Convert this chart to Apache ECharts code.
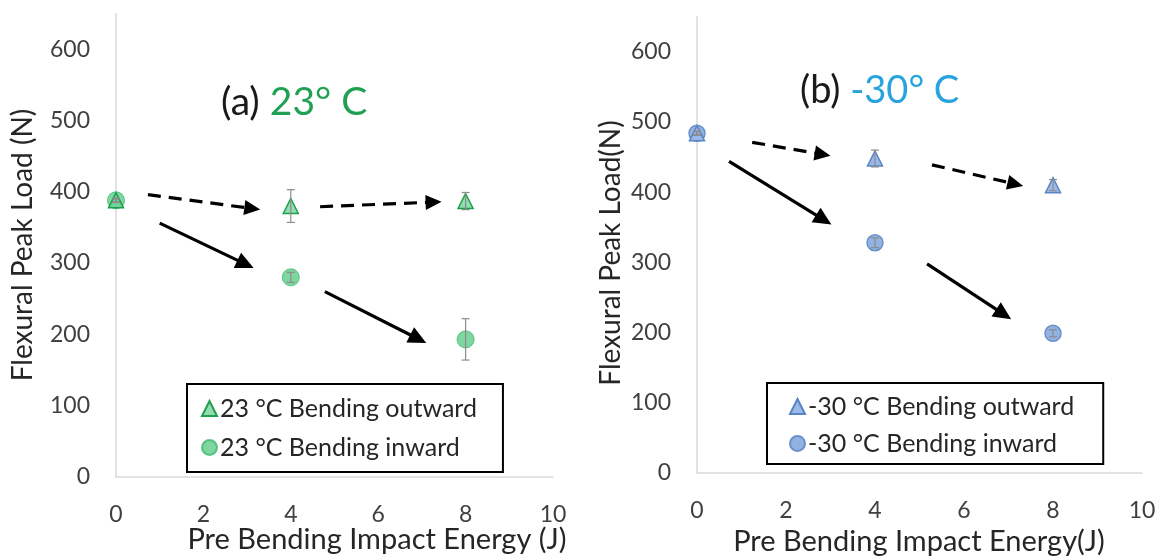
<!DOCTYPE html>
<html>
<head>
<meta charset="utf-8">
<script src="https://cdn.jsdelivr.net/npm/echarts@6/dist/echarts.min.js"></script>
<style>
html,body{margin:0;padding:0;background:#fff;}
#chart{width:1166px;height:559px;}
</style>
</head>
<body>
<div id="chart"></div>
<script>
// ---- data ----
const xValues = [0, 4, 8];
const xTicks = [0, 2, 4, 6, 8, 10];
const yTicks = [0, 100, 200, 300, 400, 500, 600];

const outward23 = [388, 380, 387];
const outward23Err = [3, 23, 12];
const inward23 = [388, 280, 193];
const inward23Err = [2, 7, 29];

const outwardM30 = [484, 448, 410];
const outwardM30Err = [3, 12, 8];
const inwardM30 = [484, 328, 199];
const inwardM30Err = [2, 7, 5];

// arrows: [start, end(tip)] in data coordinates
const arrowsDashedA = [[[0.73, 396], [3.3, 375]], [[4.67, 379], [7.45, 386]]];
const arrowsSolidA = [[[1.0, 356], [3.15, 293]], [[4.78, 260], [7.1, 188]]];
const arrowsDashedB = [[[1.24, 471], [3.0, 452]], [[5.28, 439], [7.33, 409]]];
const arrowsSolidB = [[[0.72, 444], [3.02, 354]], [[5.17, 298], [7.06, 219]]];

const names = {
  outA: '23 °C Bending outward',
  inA: '23 °C Bending inward',
  outB: '-30 °C Bending outward',
  inB: '-30 °C Bending inward'
};

// ---- helpers ----
const FONT = 'Lato';
function pts(ys) { return xValues.map((x, i) => [x, ys[i]]); }
function errData(ys, errs) { return xValues.map((x, i) => [x, ys[i] - errs[i], ys[i] + errs[i]]); }
function errSeries(idx, ys, errs) {
  return {
    type: 'custom', xAxisIndex: idx, yAxisIndex: idx, z: 5, silent: true,
    data: errData(ys, errs),
    renderItem: function (params, api) {
      const lo = api.coord([api.value(0), api.value(1)]);
      const hi = api.coord([api.value(0), api.value(2)]);
      const w = 4;
      const st = { stroke: '#8c8c8c', lineWidth: 1.2 };
      return {
        type: 'group', children: [
          { type: 'line', shape: { x1: lo[0], y1: lo[1], x2: hi[0], y2: hi[1] }, style: st },
          { type: 'line', shape: { x1: lo[0] - w, y1: lo[1], x2: lo[0] + w, y2: lo[1] }, style: st },
          { type: 'line', shape: { x1: hi[0] - w, y1: hi[1], x2: hi[0] + w, y2: hi[1] }, style: st }
        ]
      };
    }
  };
}
function arrowSeries(idx, list, dashed) {
  return {
    type: 'custom', xAxisIndex: idx, yAxisIndex: idx, z: 3, silent: true,
    data: list.map(a => [a[0][0], a[0][1], a[1][0], a[1][1]]),
    renderItem: function (params, api) {
      const p0 = api.coord([api.value(0), api.value(1)]);
      const p1 = api.coord([api.value(2), api.value(3)]);
      const dx = p1[0] - p0[0], dy = p1[1] - p0[1];
      const L = Math.hypot(dx, dy), ux = dx / L, uy = dy / L;
      const hl = dashed ? 16 : 18, hw = dashed ? 7.5 : 8.5;
      const base = [p1[0] - ux * hl, p1[1] - uy * hl];
      const l = [base[0] - uy * hw, base[1] + ux * hw];
      const r = [base[0] + uy * hw, base[1] - ux * hw];
      return {
        type: 'group', children: [
          { type: 'line', shape: { x1: p0[0], y1: p0[1], x2: base[0] + ux * 2, y2: base[1] + uy * 2 },
            style: { stroke: '#000', lineWidth: 3.2, lineDash: dashed ? [13, 8] : null } },
          { type: 'polygon', shape: { points: [p1, l, r] }, style: { fill: '#000' } }
        ]
      };
    }
  };
}
function xAxisCfg(idx) {
  return {
    gridIndex: idx, type: 'value', min: 0, max: 10, interval: 2,
    axisLine: { show: true, lineStyle: { color: '#d9d9d9', width: 1.5 } },
    axisTick: { show: false }, splitLine: { show: false },
    axisLabel: { color: '#404040', fontSize: 23, fontFamily: FONT, margin: 26 }
  };
}
function yAxisCfg(idx) {
  return {
    gridIndex: idx, type: 'value', min: 0, max: 650, interval: 100,
    axisLine: { show: true, lineStyle: { color: '#d9d9d9', width: 1.5 } },
    axisTick: { show: false }, splitLine: { show: false },
    axisLabel: {
      color: '#404040', fontSize: 23, fontFamily: FONT, margin: 26, showMaxLabel: false,
      formatter: v => (yTicks.indexOf(v) >= 0 ? String(v) : '')
    }
  };
}

const chart = echarts.init(document.getElementById('chart'), null, { renderer: 'canvas' });
chart.setOption({
  animation: false,
  backgroundColor: '#fff',
  grid: [
    { left: 116, top: 13.5, width: 437, height: 463.5 },
    { left: 697, top: 16.7, width: 445, height: 456.3 }
  ],
  xAxis: [xAxisCfg(0), xAxisCfg(1)],
  yAxis: [yAxisCfg(0), yAxisCfg(1)],
  title: [
    {
      text: '{k|(a) }{g|23° C}', left: 221, top: 83, padding: 0,
      textStyle: { fontWeight: 'normal', rich: {
        k: { fontSize: 39, fontFamily: FONT, fontWeight: 'normal', color: '#1a1a1a' },
        g: { fontSize: 39, fontFamily: FONT, fontWeight: 'normal', color: '#20a052' }
      } }
    },
    {
      text: '{k|(b) }{g|-30° C}', left: 800, top: 72, padding: 0,
      textStyle: { fontWeight: 'normal', rich: {
        k: { fontSize: 38, fontFamily: FONT, fontWeight: 'normal', color: '#1a1a1a' },
        g: { fontSize: 38, fontFamily: FONT, fontWeight: 'normal', color: '#29a3de' }
      } }
    }
  ],
  legend: [
    {
      data: [names.outA, names.inA], orient: 'vertical', left: 187, top: 384,
      borderColor: '#000', borderWidth: 2, padding: [12, 26, 12, 14], itemGap: 14,
      itemWidth: 15, itemHeight: 15, selectedMode: false,
      textStyle: { fontSize: 25, fontFamily: FONT, color: '#262626', padding: [0, 0, 0, -2] }
    },
    {
      data: [names.outB, names.inB], orient: 'vertical', left: 767, top: 383,
      borderColor: '#000', borderWidth: 2, padding: [11, 29, 8, 22], itemGap: 12,
      itemWidth: 15, itemHeight: 15, selectedMode: false,
      textStyle: { fontSize: 25, fontFamily: FONT, color: '#262626', padding: [0, 0, 0, -2] }
    }
  ],
  graphic: [
    { type: 'text', x: 23, y: 245, rotation: Math.PI / 2, style: { text: 'Flexural Peak Load (N)', font: '28px Lato', fill: '#262626', align: 'center', verticalAlign: 'middle' } },
    { type: 'text', x: 611, y: 253, rotation: Math.PI / 2, style: { text: 'Flexural Peak Load(N)', font: '28px Lato', fill: '#262626', align: 'center', verticalAlign: 'middle' } },
    { type: 'text', x: 377, y: 540, style: { text: 'Pre Bending Impact Energy (J)', font: '29px Lato', fill: '#262626', align: 'center', verticalAlign: 'middle' } },
    { type: 'text', x: 919, y: 542, style: { text: 'Pre Bending Impact Energy(J)', font: '29px Lato', fill: '#262626', align: 'center', verticalAlign: 'middle' } }
  ],
  series: [
    arrowSeries(0, arrowsDashedA, true),
    arrowSeries(0, arrowsSolidA, false),
    arrowSeries(1, arrowsDashedB, true),
    arrowSeries(1, arrowsSolidB, false),
    {
      name: names.inA, type: 'scatter', xAxisIndex: 0, yAxisIndex: 0, z: 4,
      symbol: 'circle', symbolSize: 17, data: pts(inward23),
      itemStyle: { color: 'rgba(72,196,120,0.7)', borderColor: 'rgba(60,185,110,0.8)', borderWidth: 1, opacity: 1 }
    },
    {
      name: names.outA, type: 'scatter', xAxisIndex: 0, yAxisIndex: 0, z: 4,
      symbol: 'triangle', symbolSize: 15, data: pts(outward23),
      itemStyle: { color: 'rgba(110,210,150,0.75)', borderColor: '#1f9e4e', borderWidth: 1.5, opacity: 1 }
    },
    {
      name: names.inB, type: 'scatter', xAxisIndex: 1, yAxisIndex: 1, z: 4,
      symbol: 'circle', symbolSize: 16, data: pts(inwardM30),
      itemStyle: { color: '#92b2e2', borderColor: '#6a90cc', borderWidth: 1.5, opacity: 1 }
    },
    {
      name: names.outB, type: 'scatter', xAxisIndex: 1, yAxisIndex: 1, z: 4,
      symbol: 'triangle', symbolSize: 15, data: pts(outwardM30),
      itemStyle: { color: '#9bb9e6', borderColor: '#5a84c4', borderWidth: 1.5, opacity: 1 }
    },
    errSeries(0, outward23, outward23Err),
    errSeries(0, inward23, inward23Err),
    errSeries(1, outwardM30, outwardM30Err),
    errSeries(1, inwardM30, inwardM30Err)
  ]
});
</script>
</body>
</html>
